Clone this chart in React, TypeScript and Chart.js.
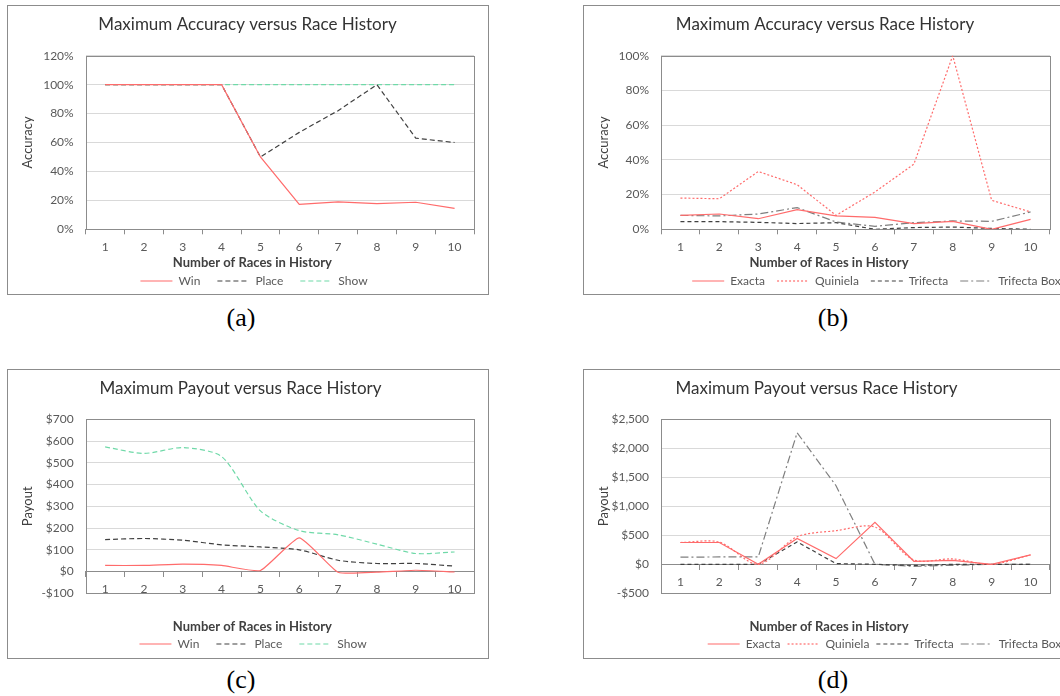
import React, { useEffect, useRef } from 'react';
import { Chart, registerables } from 'chart.js';

Chart.register(...registerables);

// ---------- data ----------
const races = ['1', '2', '3', '4', '5', '6', '7', '8', '9', '10'];

// (a) accuracy, Win / Place / Show (%)
const accWin = [100, 100, 100, 100, 50, 17.3, 18.9, 17.7, 18.7, 14.5];
const accPlace = [100, 100, 100, 100, 50, 67, 82, 100, 63, 60];
const accShow = [100, 100, 100, 100, 100, 100, 100, 100, 100, 100];

// (b) accuracy, exotic bets (%)
const accExacta = [8.0, 8.8, 6.1, 11.3, 7.7, 6.9, 3.3, 4.6, 0, 5.7];
const accQuiniela = [18.0, 17.6, 33.3, 25.7, 8.0, 21.5, 37.5, 100, 16.7, 10];
const accTrifecta = [4.4, 4.4, 4.0, 3.3, 3.8, 0, 1.0, 1.3, 0.5, 0];
const accTrifectaBox = [8.0, 7.7, 8.8, 12.5, 4.2, 1.7, 3.8, 4.8, 4.6, 10];

// (c) payout, Win / Place / Show ($)
const payWin = [28, 28, 34, 28, 5, 155, -3, -3, 6, -2];
const payPlace = [147, 152, 144, 123, 113, 100, 52, 37, 37, 25];
const payShow = [573, 543, 570, 529, 279, 188, 169, 126, 83, 90];

// (d) payout, exotic bets ($)
const payExacta = [376, 376, 0, 446, 98, 723, 52, 69, 0, 162];
const payQuiniela = [376, 382, 0, 475, 579, 642, 75, 93, 0, 162];
const payTrifecta = [0, 0, 0, 386, 12, 0, -20, 0, 0, 0];
const payTrifectaBox = [122, 127, 127, 2268, 1354, 0, -35, -17, 0, 0];

const titleAccuracy = 'Maximum Accuracy versus Race History';
const titlePayout = 'Maximum Payout versus Race History';
const xTitle = 'Number of Races in History';

// ---------- styles ----------
const FONT = 'Lato, "Open Sans", sans-serif';
const RED = '#ff6b6b';
const DARK = '#404040';
const GREY = '#7f7f7f';
const GREEN = '#6fd9a8';
const TEXT = '#595959';
const FRAME = '#8c8c8c';

const pct = (v: number) => `${v}%`;
const money = (v: number) => (v < 0 ? '-$' : '$') + Math.abs(v).toLocaleString('en-US');

type Series = { label: string; data: number[]; color: string; dash: number[]; tension?: number };

const plotFrame = {
  id: 'plotFrame',
  beforeDatasetsDraw(chart: any) {
    const { ctx, chartArea } = chart;
    const l = Math.round(chartArea.left) + 0.5;
    const t = Math.round(chartArea.top) + 0.5;
    const r = Math.round(chartArea.right) + 0.5;
    const b = Math.round(chartArea.bottom) + 0.5;
    ctx.save();
    ctx.strokeStyle = FRAME;
    ctx.lineWidth = 1;
    ctx.strokeRect(l, t, r - l, b - t);
    ctx.restore();
  },
};

// nudges the chart title, the legend and the x-axis title block sideways
const shiftBlocks = {
  id: 'shiftBlocks',
  afterLayout(chart: any, _args: any, opts: any) {
    const move = (box: any, dx: number) => {
      if (box && dx) {
        box.left += dx;
        box.right += dx;
      }
    };
    move(chart.titleBlock, opts.title);
    move(chart.legend, opts.legend);
    move(chart.scales && chart.scales.x2, opts.xTitle);
  },
};

type PanelCfg = {
  left: number;
  top: number;
  boxW: number;
  boxH: number;
  canvasW: number;
  canvasH: number;
  yWidth: number;
  padRight: number;
  title: string;
  titleY: number;
  chartTop: number;
  chartBottom: number;
  xTitleY: number;
  yTitle: string;
  yMin: number;
  yMax: number;
  yStep: number;
  yFmt: (v: number) => string;
  series: Series[];
  zeroAxis: boolean;
  legendPad: number;
  shiftTitle: number;
  shiftLegend: number;
  shiftXTitle: number;
};

const TITLE_SIZE = 17;
const TITLE_LH = TITLE_SIZE * 1.2;
const XT_LH = 13 * 1.2;
const TICK_LH = 12 * 1.2;
const TICK_LEN = 5;
const TICK_PAD = 5.5;

function Panel({ cfg }: { cfg: PanelCfg }) {
  const ref = useRef<HTMLCanvasElement | null>(null);
  useEffect(() => {
    if (!ref.current) return;
    const tickFont = { family: FONT, size: 12 };
    // vertical layout, relative to the canvas
    const titlePadTop = cfg.titleY - cfg.top - TITLE_LH / 2;
    const titlePadBottom = cfg.chartTop - cfg.top - titlePadTop - TITLE_LH;
    const legendTop = cfg.top + cfg.canvasH - (12 + cfg.legendPad + 10);
    const xAxisH = cfg.zeroAxis ? 0 : TICK_LEN + TICK_PAD + TICK_LH;
    const x2H = legendTop - cfg.chartBottom - xAxisH;
    const xPadBottom = legendTop - XT_LH / 2 - cfg.xTitleY;
    const xPadTop = x2H - XT_LH - xPadBottom;
    const scales: any = {
      x: {
        offset: true,
        weight: 0,
        grid: {
          display: true,
          drawOnChartArea: false,
          drawTicks: true,
          tickLength: TICK_LEN,
          tickColor: FRAME,
          offset: true,
        },
        border: { display: cfg.zeroAxis, color: FRAME },
        ticks: { color: TEXT, font: tickFont, padding: TICK_PAD, maxRotation: 0, autoSkip: false },
        title: { display: false },
        afterFit: (s: any) => {
          s.height = xAxisH;
        },
      },
      x2: {
        type: 'category',
        position: 'bottom',
        weight: 1,
        offset: true,
        grid: { display: false, drawTicks: false, tickLength: 0 },
        border: { display: false },
        ticks: { display: false },
        title: {
          display: true,
          text: xTitle,
          color: DARK,
          font: { family: FONT, size: 13, weight: 'bold' },
          padding: { top: xPadTop, bottom: xPadBottom },
        },
      },
      y: {
        min: cfg.yMin,
        max: cfg.yMax,
        ticks: {
          stepSize: cfg.yStep,
          color: TEXT,
          font: tickFont,
          padding: 12,
          callback: (v: any) => cfg.yFmt(Number(v)),
        },
        grid: { color: '#d9d9d9', drawTicks: false },
        border: { display: false },
        title: {
          display: true,
          text: cfg.yTitle,
          color: DARK,
          font: { family: FONT, size: 13 },
          padding: { top: 13.5, bottom: 0 },
        },
        afterFit: (s: any) => {
          s.width = cfg.yWidth;
        },
      },
    };
    if (cfg.zeroAxis) {
      scales.x.position = { y: 0 };
    }
    const chart = new Chart(ref.current, {
      type: 'line',
      data: {
        labels: races,
        datasets: cfg.series.map((s) => ({
          label: s.label,
          data: s.data,
          borderColor: s.color,
          backgroundColor: s.color,
          borderDash: s.dash,
          borderWidth: 1.2,
          pointRadius: 0,
          pointHoverRadius: 0,
          tension: s.tension ?? 0,
          fill: false,
        })),
      },
      options: {
        responsive: false,
        animation: false,
        events: [],
        layout: { padding: { left: 0, right: cfg.padRight, top: 0, bottom: 0 } },
        scales,
        plugins: {
          title: {
            display: true,
            text: cfg.title,
            color: '#333333',
            font: { family: FONT, size: TITLE_SIZE, weight: 'normal' },
            padding: { top: titlePadTop, bottom: titlePadBottom },
          },
          legend: {
            position: 'bottom',
            align: 'center',
            labels: {
              usePointStyle: true,
              pointStyle: 'line',
              pointStyleWidth: 32,
              padding: cfg.legendPad,
              color: TEXT,
              font: { family: FONT, size: 12 },
              generateLabels: (ch: any) =>
                ch.data.datasets.map((ds: any, i: number) => ({
                  text: ds.label,
                  fillStyle: 'rgba(0,0,0,0)',
                  strokeStyle: ds.borderColor,
                  lineWidth: ds.borderWidth,
                  lineDash: ds.borderDash,
                  lineCap: 'butt',
                  pointStyle: 'line',
                  hidden: false,
                  datasetIndex: i,
                  fontColor: TEXT,
                })),
            },
          },
          tooltip: { enabled: false },
          shiftBlocks: { title: cfg.shiftTitle, legend: cfg.shiftLegend, xTitle: cfg.shiftXTitle },
        } as any,
      },
      plugins: [plotFrame, shiftBlocks],
    });
    return () => chart.destroy();
  }, [cfg]);

  return (
    <>
      <div
        style={{
          position: 'absolute',
          left: cfg.left,
          top: cfg.top,
          width: cfg.boxW,
          height: cfg.boxH,
          border: `1px solid ${FRAME}`,
          boxSizing: 'border-box',
        }}
      />
      <canvas
        ref={ref}
        width={cfg.canvasW}
        height={cfg.canvasH}
        style={{ position: 'absolute', left: cfg.left, top: cfg.top, width: cfg.canvasW, height: cfg.canvasH }}
      />
    </>
  );
}

const panelA: PanelCfg = {
  left: 7, top: 5, boxW: 482, boxH: 290, canvasW: 482, canvasH: 292,
  yWidth: 78.7, padRight: 15,
  title: titleAccuracy, titleY: 25, chartTop: 55.7, chartBottom: 229.3, xTitleY: 263,
  yTitle: 'Accuracy', yMin: 0, yMax: 120, yStep: 20, yFmt: pct,
  series: [
    { label: 'Win', data: accWin, color: RED, dash: [] },
    { label: 'Place', data: accPlace, color: DARK, dash: [5, 3] },
    { label: 'Show', data: accShow, color: GREEN, dash: [5, 3] },
  ],
  zeroAxis: false,
  legendPad: 17, shiftTitle: 7, shiftLegend: 13.5, shiftXTitle: -27.5,
};

const panelB: PanelCfg = {
  left: 583, top: 5, boxW: 484, boxH: 290, canvasW: 497, canvasH: 292,
  yWidth: 78, padRight: 30,
  title: titleAccuracy, titleY: 25, chartTop: 55.7, chartBottom: 229.3, xTitleY: 263,
  yTitle: 'Accuracy', yMin: 0, yMax: 100, yStep: 20, yFmt: pct,
  series: [
    { label: 'Exacta', data: accExacta, color: RED, dash: [] },
    { label: 'Quiniela', data: accQuiniela, color: RED, dash: [2, 2] },
    { label: 'Trifecta', data: accTrifecta, color: DARK, dash: [4, 3] },
    { label: 'Trifecta Box', data: accTrifectaBox, color: GREY, dash: [8, 3, 2, 3] },
  ],
  zeroAxis: false,
  legendPad: 12, shiftTitle: 8.5, shiftLegend: 60, shiftXTitle: -26.5,
};

const panelC: PanelCfg = {
  left: 7, top: 369, boxW: 482, boxH: 290, canvasW: 482, canvasH: 291,
  yWidth: 78.7, padRight: 15,
  title: titlePayout, titleY: 388.3, chartTop: 419.3, chartBottom: 593.3, xTitleY: 627.3,
  yTitle: 'Payout', yMin: -100, yMax: 700, yStep: 100, yFmt: money,
  series: [
    { label: 'Win', data: payWin, color: RED, dash: [], tension: 0.15 },
    { label: 'Place', data: payPlace, color: DARK, dash: [5, 3], tension: 0.25 },
    { label: 'Show', data: payShow, color: GREEN, dash: [5, 3], tension: 0.25 },
  ],
  zeroAxis: true,
  legendPad: 17, shiftTitle: 0, shiftLegend: 12.5, shiftXTitle: -27.5,
};

const panelD: PanelCfg = {
  left: 583, top: 369, boxW: 484, boxH: 290, canvasW: 497, canvasH: 291,
  yWidth: 78, padRight: 30,
  title: titlePayout, titleY: 388.3, chartTop: 419.3, chartBottom: 593.3, xTitleY: 627.3,
  yTitle: 'Payout', yMin: -500, yMax: 2500, yStep: 500, yFmt: money,
  series: [
    { label: 'Exacta', data: payExacta, color: RED, dash: [] },
    { label: 'Quiniela', data: payQuiniela, color: RED, dash: [2, 2], tension: 0.3 },
    { label: 'Trifecta', data: payTrifecta, color: DARK, dash: [4, 3] },
    { label: 'Trifecta Box', data: payTrifectaBox, color: GREY, dash: [8, 3, 2, 3] },
  ],
  zeroAxis: true,
  legendPad: 7, shiftTitle: 0, shiftLegend: 68, shiftXTitle: -26.5,
};

const captions = [
  { text: '(a)', x: 241, y: 318 },
  { text: '(b)', x: 833, y: 318 },
  { text: '(c)', x: 241, y: 680 },
  { text: '(d)', x: 833, y: 680 },
];

export default function App() {
  return (
    <div
      style={{
        position: 'fixed',
        left: 0,
        top: 0,
        width: 1060,
        height: 696,
        overflow: 'hidden',
        background: '#ffffff',
      }}
    >
      <Panel cfg={panelA} />
      <Panel cfg={panelB} />
      <Panel cfg={panelC} />
      <Panel cfg={panelD} />
      {captions.map((c) => (
        <div
          key={c.text}
          style={{
            position: 'absolute',
            left: c.x - 40,
            top: c.y - 16,
            width: 80,
            height: 32,
            lineHeight: '32px',
            textAlign: 'center',
            fontFamily: '"Liberation Serif", "Times New Roman", serif',
            fontSize: 26,
            color: '#000',
          }}
        >
          {c.text}
        </div>
      ))}
    </div>
  );
}
